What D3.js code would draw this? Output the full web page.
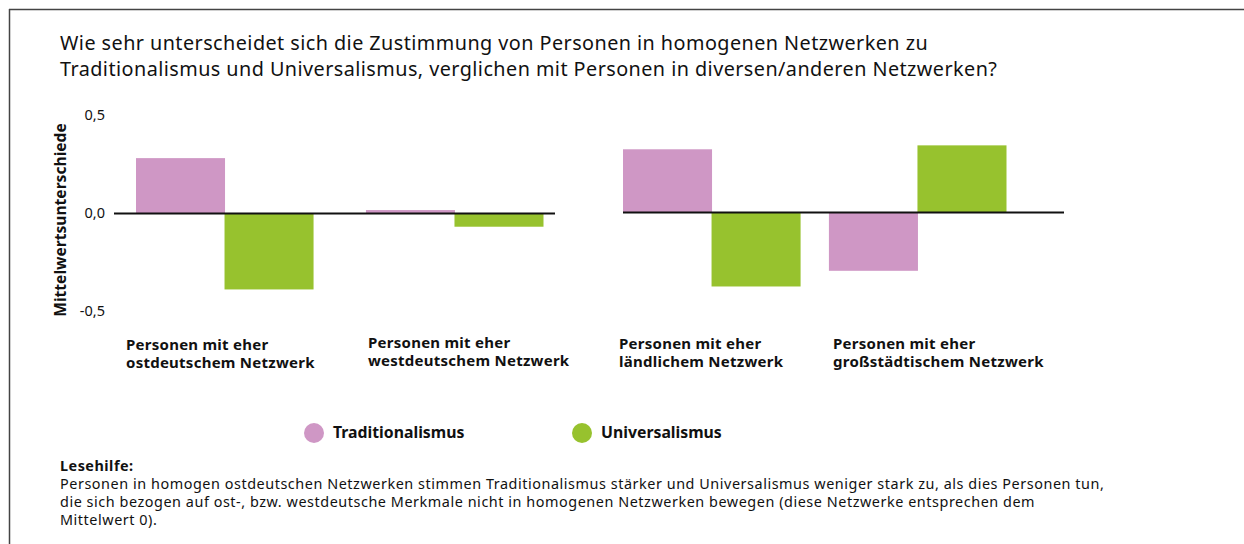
<!DOCTYPE html>
<html>
<head>
<meta charset="utf-8">
<script src="https://cdn.jsdelivr.net/npm/d3@7"></script>
<style>
  body { margin: 0; background: #fff; }
  svg text { font-family: "Noto Sans", sans-serif; fill: #111; }
</style>
</head>
<body>
<svg id="chart" width="1244" height="544"></svg>
<script>
// data
let series = ["Traditionalismus", "Universalismus"];
let seriesColors = ["#cf97c5", "#97c22e"];
let groupsLeft = ["ost", "west"];
let groupsRight = ["land", "stadt"];
let groupLabels = {
  ost: ["Personen mit eher", "ostdeutschem Netzwerk"],
  west: ["Personen mit eher", "westdeutschem Netzwerk"],
  land: ["Personen mit eher", "ländlichem Netzwerk"],
  stadt: ["Personen mit eher", "großstädtischem Netzwerk"]
};
let traditionalismus = { ost: 0.28, west: 0.015, land: 0.32, stadt: -0.30 };
let universalismus = { ost: -0.39, west: -0.07, land: -0.38, stadt: 0.34 };
let yTicks = [0.5, 0, -0.5];

let svg = d3.select("#chart");

// frame (top + left border only)
svg.append("line").attr("x1", 9).attr("x2", 1244).attr("y1", 9.5).attr("y2", 9.5)
  .attr("stroke", "#444").attr("stroke-width", 1.5);
svg.append("line").attr("x1", 9.5).attr("x2", 9.5).attr("y1", 9).attr("y2", 544)
  .attr("stroke", "#444").attr("stroke-width", 1.5);

// title
svg.append("text").attr("x", 60).attr("y", 49.5)
  .style("font-size", "19.8px").style("letter-spacing", "0.45px")
  .text("Wie sehr unterscheidet sich die Zustimmung von Personen in homogenen Netzwerken zu");
svg.append("text").attr("x", 60).attr("y", 76)
  .style("font-size", "19.8px").style("letter-spacing", "0.45px")
  .text("Traditionalismus und Universalismus, verglichen mit Personen in diversen/anderen Netzwerken?");

let y = d3.scaleLinear().domain([-0.5, 0.5]).range([311, 115]);

// y tick labels (text only)
svg.selectAll(".ytick").data(yTicks).enter().append("text")
  .attr("x", 105).attr("y", d => y(d) + 5)
  .attr("text-anchor", "end")
  .style("font-size", "14.5px")
  .text(d => d3.format(".1f")(d).replace(".", ",").replace("−", "-"));

svg.append("text")
  .attr("transform", "translate(66," + (y(0) + 7) + ") rotate(-90)")
  .attr("text-anchor", "middle")
  .style("font-size", "15.6px").style("font-weight", "bold")
  .text("Mittelwertsunterschiede");

function drawPanel(groups, x0, x1, pad, lineEnd, dy) {
  let g = svg.append("g").attr("transform", "translate(0," + dy + ")");
  let xg = d3.scaleBand().domain(groups).range([x0, x1]).paddingInner(pad).paddingOuter(0);
  let xs = d3.scaleBand().domain(series).range([0, xg.bandwidth()]);
  let rows = [];
  groups.forEach(k => {
    rows.push({ group: k, s: series[0], v: traditionalismus[k] });
    rows.push({ group: k, s: series[1], v: universalismus[k] });
  });
  g.selectAll("rect").data(rows).enter().append("rect")
    .attr("x", d => xg(d.group) + xs(d.s))
    .attr("width", xs.bandwidth() + 0.5)
    .attr("y", d => y(Math.max(0, d.v)))
    .attr("height", d => Math.abs(y(d.v) - y(0)))
    .attr("fill", (d, i) => seriesColors[i % 2]);
  g.append("line")
    .attr("x1", lineEnd[0]).attr("x2", lineEnd[1])
    .attr("y1", y(0) + 0.6).attr("y2", y(0) + 0.6)
    .attr("stroke", "#111").attr("stroke-width", 2);
  return xg;
}

let xl = drawPanel(groupsLeft, 136, 543, 0.23, [114, 555], 0);
let xr = drawPanel(groupsRight, 623, 1006, 0.14, [623, 1064], -1);

// group labels
let labelX = { ost: 126, west: 368, land: 619, stadt: 833 };
let labelY = { ost: 350, west: 348, land: 349, stadt: 349 };
Object.keys(labelX).forEach(k => {
  let t = svg.append("text").attr("x", labelX[k]).attr("y", labelY[k])
    .style("font-size", "15px").style("font-weight", "bold")
    .style("letter-spacing", "0.25px");
  groupLabels[k].forEach((line, i) => {
    t.append("tspan").attr("x", labelX[k]).attr("dy", i == 0 ? 0 : 18).text(line);
  });
});

// legend
let legendX = [314, 582];
series.forEach((s, i) => {
  svg.append("circle").attr("cx", legendX[i]).attr("cy", 433).attr("r", 10)
    .attr("fill", seriesColors[i]);
  svg.append("text").attr("x", legendX[i] + 19).attr("y", 438)
    .style("font-size", "15.8px").style("font-weight", "bold").text(s);
});

// reading note
svg.append("text").attr("x", 60).attr("y", 470.5)
  .style("font-size", "14.4px").style("font-weight", "bold")
  .style("letter-spacing", "0.5px").text("Lesehilfe:");
let noteLines = [
  "Personen in homogen ostdeutschen Netzwerken stimmen Traditionalismus stärker und Universalismus weniger stark zu, als dies Personen tun,",
  "die sich bezogen auf ost-, bzw. westdeutsche Merkmale nicht in homogenen Netzwerken bewegen (diese Netzwerke entsprechen dem",
  "Mittelwert 0)."
];
noteLines.forEach((l, i) => {
  svg.append("text").attr("x", 60).attr("y", 488.5 + i * 18)
    .style("font-size", "14.4px").style("letter-spacing", "0.55px").text(l);
});
</script>
</body>
</html>
